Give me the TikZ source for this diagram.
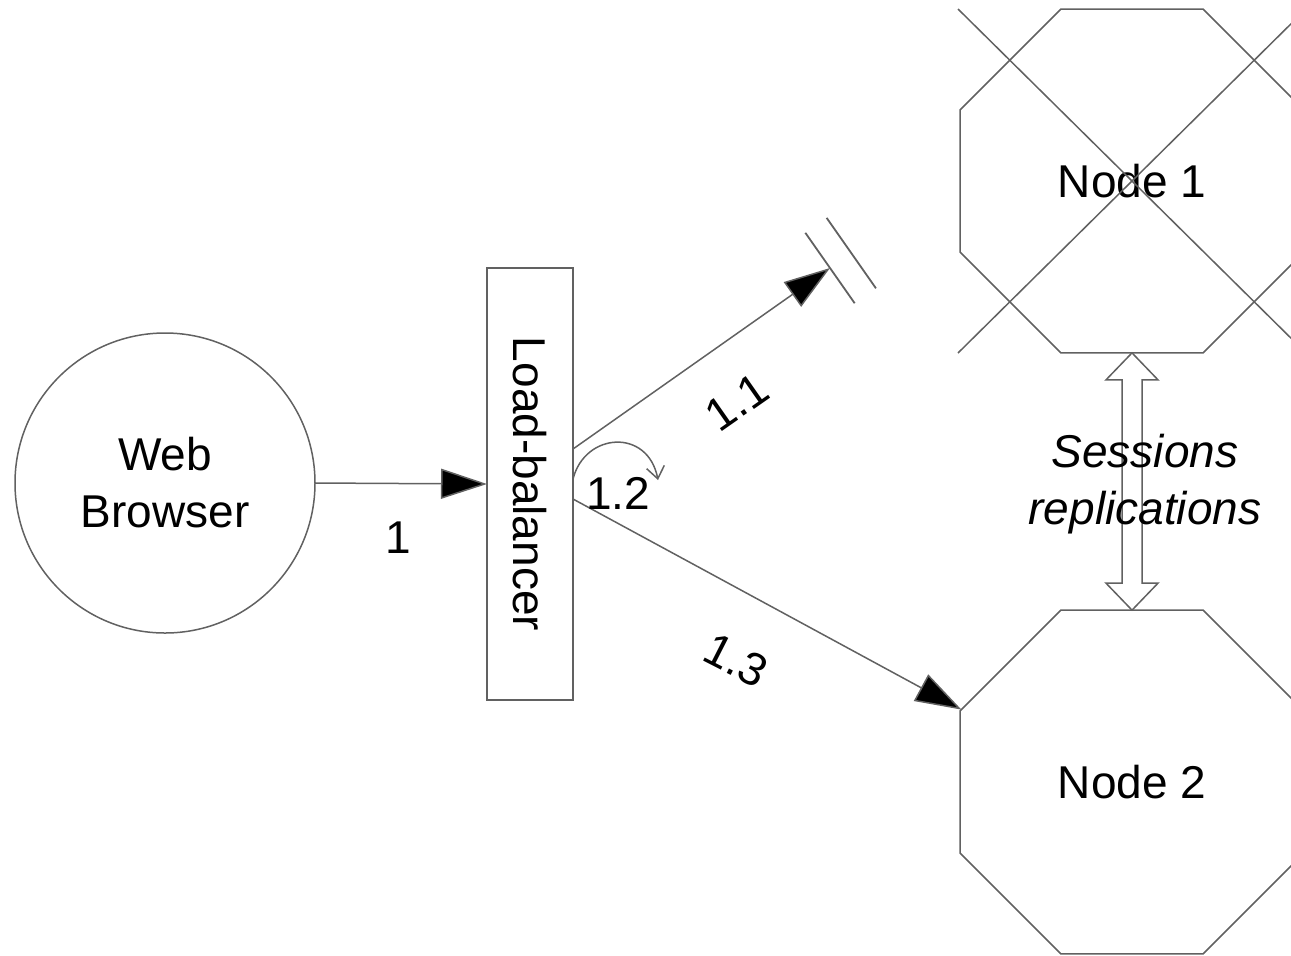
\documentclass[tikz,border=0pt]{standalone}
\usepackage{fontspec}
\setmainfont{Liberation Sans}
\usetikzlibrary{shapes.geometric,arrows.meta,calc}

\begin{document}
\begin{tikzpicture}[x=0.5pt,y=-0.5pt,
  line width=0.75pt,
  every node/.style={font=\fontsize{23}{28.5}\selectfont, align=center},
  shapeline/.style={draw=black!62, outer sep=0pt},
  flow/.style={draw=black!62, -{Triangle[length=23pt,width=15pt,fill=black]}},
  lbl/.style={inner sep=0pt}]
\useasboundingbox (0,0) rectangle (1291,955);
\clip (0,0) rectangle (1291,955);
% browser and balancer
\node [shapeline, circle, minimum size=150pt] (wb) at (165,483) {Web\\Browser};
\node [shapeline, rectangle, minimum width=43pt, minimum height=216pt] (lb) at (530,484) {};
\node [rotate=-90] (lbtext) at (lb) {Load-balancer};
% cluster nodes
\node [shapeline, regular polygon, regular polygon sides=8, minimum size=186pt] (n1) at (1132,181) {Node 1};
\node [shapeline, regular polygon, regular polygon sides=8, minimum size=186pt] (n2) at (1132,782) {Node 2};
\draw [black!62] ($(n1)+(-174,-172)$) -- ($(n1)+(174,172)$);
\draw [black!62] ($(n1)+(-174,172)$) -- ($(n1)+(174,-172)$);
% requests
\coordinate (lost) at (830,268);
\coordinate (loopend) at (658,480);
\draw [flow] (wb.east) -- (lb.west);
\draw [flow] (lb.east |- 0,449) -- (lost);
\draw [black!62, line width=0.9pt, shift={(lost)}, rotate=35] (0,-43) -- (0,43) (26,-43) -- (26,43);
\draw [black!62, -{Straight Barb[length=6pt,width=9pt]}] (lb.east |- 0,479) .. controls (585,432) and (648,428) .. (loopend);
\draw [flow] (lb.east |- 0,499) -- (n2.157.5);
% sessions replication
\draw [black!62] (n1.south) -- ++(26,27) -- ++(-16,0) -- ($(n2.north)+(10,-27)$) -- ++(16,0)
  -- (n2.north) -- ++(-26,-27) -- ++(16,0) -- ($(n1.south)+(-10,27)$) -- ++(-16,0) -- cycle;
\node [font=\fontsize{23}{28.5}\selectfont\itshape] (sess) at (1145,484) {Sessions\\replications};
% labels
\node [lbl] (l1) at (398,538) {1};
\node [lbl, rotate=35] (l11) at (737,402) {1.1};
\node [lbl] (l12) at (618,493) {1.2};
\node [lbl, rotate=-27] (l13) at (736,660) {1.3};
\end{tikzpicture}
\end{document}
